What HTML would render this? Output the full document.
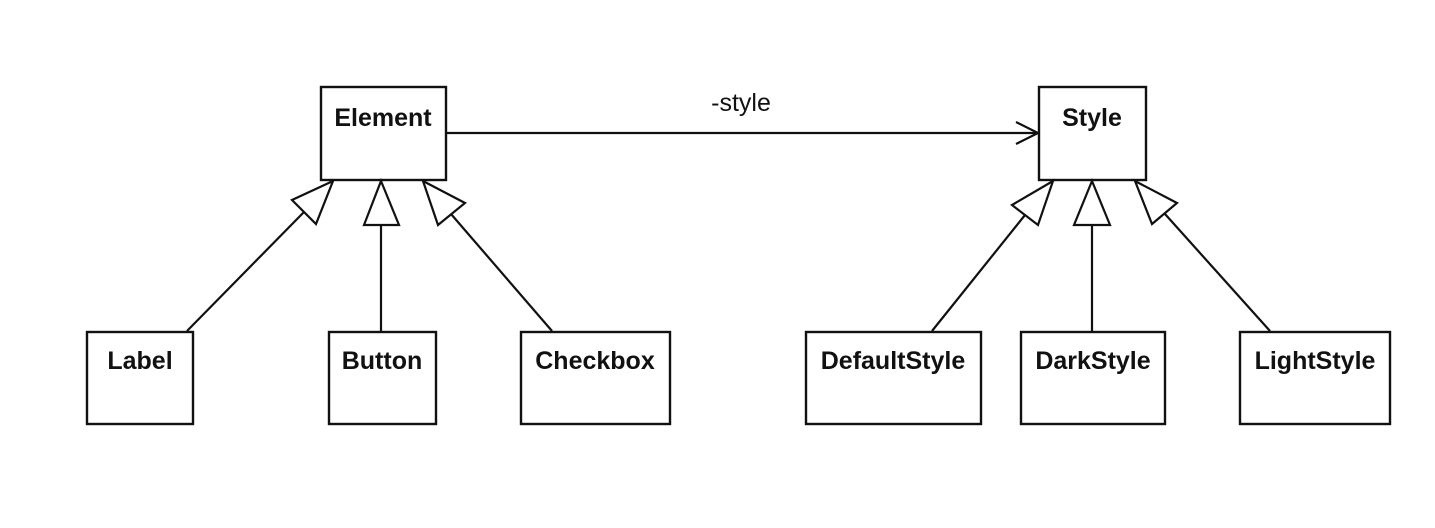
<!DOCTYPE html>
<html><head><style>html,body{margin:0;padding:0;background:#fff;width:1435px;height:528px;overflow:hidden}</style></head>
<body>
<svg width="1435" height="528" viewBox="0 0 1435 528" xmlns="http://www.w3.org/2000/svg" font-family="Liberation Sans, Arial, sans-serif">
<g fill="#fff" stroke="#111" stroke-width="2.4">
<rect x="321" y="87" width="125" height="93"/>
<rect x="1039" y="87" width="107" height="93"/>
<rect x="87" y="332" width="106" height="92"/>
<rect x="329" y="332" width="107" height="92"/>
<rect x="521" y="332" width="149" height="92"/>
<rect x="806" y="332" width="175" height="92"/>
<rect x="1021" y="332" width="144" height="92"/>
<rect x="1240" y="332" width="150" height="92"/>
</g>
<g fill="none" stroke="#111" stroke-width="2.2">
<line x1="446" y1="133" x2="1038" y2="133"/>
<polyline points="1016,122 1038,133 1016,144"/>
<line x1="187" y1="331" x2="304" y2="212"/>
<line x1="381" y1="331" x2="381" y2="225"/>
<line x1="552" y1="331" x2="451" y2="214"/>
<line x1="932" y1="331" x2="1025" y2="215"/>
<line x1="1092" y1="331" x2="1092" y2="225"/>
<line x1="1270" y1="331" x2="1165" y2="214"/>
</g>
<g fill="#fff" stroke="#111" stroke-width="2.2" stroke-linejoin="miter">
<polygon points="333,181 292,200 316,224"/>
<polygon points="381,181 364,225 399,225"/>
<polygon points="423,181 465,203 438,225"/>
<polygon points="1053,181 1012,205 1038,225"/>
<polygon points="1092,181 1074,225 1110,225"/>
<polygon points="1135,181 1177,203 1152,224"/>
</g>
<g font-weight="bold" font-size="25" fill="#111" text-anchor="middle">
<text x="383" y="126">Element</text>
<text x="1092" y="126">Style</text>
<text x="140" y="369">Label</text>
<text x="382" y="369">Button</text>
<text x="595" y="369">Checkbox</text>
<text x="893" y="369">DefaultStyle</text>
<text x="1093" y="369">DarkStyle</text>
<text x="1315" y="369">LightStyle</text>
</g>
<text x="741" y="111" font-size="25" fill="#111" text-anchor="middle">-style</text>
</svg>
</body></html>
